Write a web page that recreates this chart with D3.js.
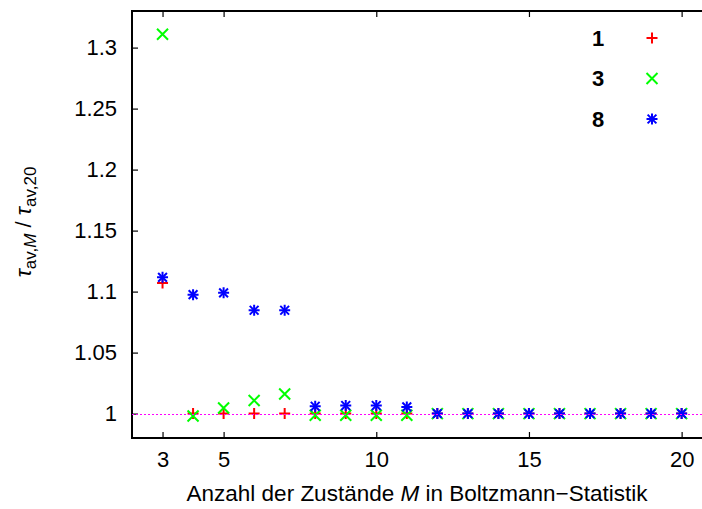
<!DOCTYPE html>
<html>
<head>
<meta charset="utf-8">
<script src="https://cdn.jsdelivr.net/npm/d3@7"></script>
<style>
  body { margin: 0; background: #fff; }
  text { font-family: "Liberation Sans", Arial, sans-serif; }
</style>
</head>
<body>
<div class="container"></div>
<script>
// number of states M
var states = [3, 4, 5, 6, 7, 8, 9, 10, 11, 12, 13, 14, 15, 16, 17, 18, 19, 20];

// tau_av,M / tau_av,20 for the three series
var series1 = [1.107, 1.0, 1.0, 1.0, 1.0, 1.0, 1.0, 1.0, 1.0, 1.0, 1.0, 1.0, 1.0, 1.0, 1.0, 1.0, 1.0, 1.0];
var series3 = [1.311, 0.998, 1.0046, 1.0107, 1.016, 0.9986, 0.9986, 0.9986, 0.9987, 1.0, 1.0, 1.0, 1.0, 1.0, 1.0, 1.0, 1.0, 1.0];
var series8 = [1.1117, 1.0975, 1.099, 1.0847, 1.0847, 1.006, 1.0066, 1.0066, 1.0055, 1.0, 1.0, 1.0, 1.0, 1.0, 1.0, 1.0, 1.0, 1.0];

var seriesNames = ['1', '3', '8'];
var xTicks = [3, 5, 10, 15, 20];
var yTicks = [1, 1.05, 1.1, 1.15, 1.2, 1.25, 1.3];

(function () {
var width = 702, height = 509;
var mLeft = 132, mRight = 703, mTop = 11, mBottom = 438;
var fontSize = 22;

var svg = d3.select('.container').append('svg')
    .attr('width', width).attr('height', height);

var x = d3.scaleLinear().domain([2, 20.7]).range([mLeft, mRight]);
var y = d3.scaleLinear().domain([0.98, 1.33]).range([mBottom, mTop]);

// axes with inward ticks, mirrored on top
var xAxis = d3.axisBottom(x).tickValues(xTicks).tickSize(-6).tickPadding(13).tickFormat(d3.format('d'));
var xAxisTop = d3.axisTop(x).tickValues(xTicks).tickSize(-6).tickFormat('');
var yAxis = d3.axisLeft(y).tickValues(yTicks).tickSize(-6).tickPadding(15).tickFormat(function (d) { return String(+d.toFixed(2)); });

var gx = svg.append('g').attr('transform', 'translate(0,' + mBottom + ')').call(xAxis);
var gxt = svg.append('g').attr('transform', 'translate(0,' + mTop + ')').call(xAxisTop);
var gy = svg.append('g').attr('transform', 'translate(' + mLeft + ',0)').call(yAxis);

[gx, gxt, gy].forEach(function (g) {
    g.select('.domain').remove();
    g.selectAll('.tick line').attr('stroke', '#000').attr('stroke-width', 1.2);
    g.selectAll('.tick text').attr('font-size', fontSize).attr('fill', '#000')
     .attr('font-family', '"Liberation Sans", Arial, sans-serif');
});

// border
svg.append('path')
   .attr('d', 'M' + mRight + ',' + mTop + 'H' + mLeft + 'V' + mBottom + 'H' + mRight)
   .attr('fill', 'none').attr('stroke', '#000').attr('stroke-width', 2);

// marker shapes
function plus(g, s) {
    g.append('path').attr('d', 'M' + (-s) + ',0H' + s + 'M0,' + (-s) + 'V' + s);
}
function cross(g, s) {
    g.append('path').attr('d', 'M' + (-s) + ',' + (-s) + 'L' + s + ',' + s + 'M' + (-s) + ',' + s + 'L' + s + ',' + (-s));
}
function star(g, s) {
    plus(g, s);
    cross(g, s * 0.8);
}

var specs = [
    { name: seriesNames[0], values: series1, color: '#ff0000', shape: plus },
    { name: seriesNames[1], values: series3, color: '#00ff00', shape: cross },
    { name: seriesNames[2], values: series8, color: '#0000ff', shape: star }
];

specs.forEach(function (sp) {
    var g = svg.append('g')
        .attr('stroke', sp.color).attr('stroke-width', 2).attr('fill', 'none');
    g.selectAll('g')
     .data(states)
     .enter()
     .append('g')
     .attr('transform', function (d, i) { return 'translate(' + x(d) + ',' + y(sp.values[i]) + ')'; })
     .each(function () { sp.shape(d3.select(this), 5.5); });
});

// reference line at 1
svg.append('line')
   .attr('x1', mLeft).attr('x2', width)
   .attr('y1', Math.round(y(1)) + 0.5).attr('y2', Math.round(y(1)) + 0.5)
   .attr('stroke', '#ff00ff')
   .attr('stroke-width', 1)
   .attr('shape-rendering', 'crispEdges')
   .attr('stroke-dasharray', '2,2');

// legend
specs.forEach(function (sp, i) {
    var ly = 38 + i * 40.5;
    svg.append('text')
       .attr('x', 598).attr('y', ly).attr('dy', '0.36em')
       .attr('text-anchor', 'middle')
       .attr('font-size', fontSize).attr('font-weight', 'bold')
       .text(sp.name);
    var g = svg.append('g')
       .attr('transform', 'translate(652,' + ly + ')')
       .attr('stroke', sp.color).attr('stroke-width', 2).attr('fill', 'none');
    sp.shape(g, 5.5);
});

// x label
var xl = svg.append('text')
    .attr('x', 417).attr('y', 501)
    .attr('text-anchor', 'middle')
    .attr('font-size', 22.5);
xl.append('tspan').text('Anzahl der Zustände ');
xl.append('tspan').attr('font-style', 'italic').text('M');
xl.append('tspan').text(' in Boltzmann\u2212Statistik');

// y label
var yl = svg.append('text')
    .attr('transform', 'translate(31,222) rotate(-90)')
    .attr('text-anchor', 'middle')
    .attr('font-size', 22);
yl.append('tspan').attr('font-style', 'italic').text('\u03c4');
yl.append('tspan').attr('font-size', 17).attr('dy', 5).text('av,');
yl.append('tspan').attr('font-size', 17).attr('font-style', 'italic').text('M');
yl.append('tspan').attr('dy', -5).text(' / ');
yl.append('tspan').attr('font-style', 'italic').text('\u03c4');
yl.append('tspan').attr('font-size', 17).attr('dy', 5).text('av,20');
})();
</script>
</body>
</html>
